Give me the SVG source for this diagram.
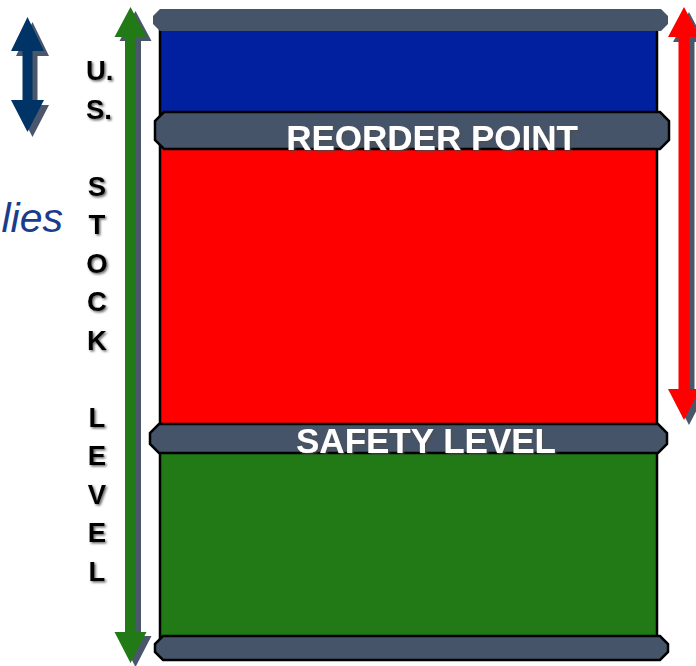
<svg xmlns="http://www.w3.org/2000/svg" width="696" height="666" viewBox="0 0 696 666">
  <style>
    .band { fill: #465469; stroke: #000; stroke-width: 2.5; stroke-linejoin: miter; }
    .band-top { fill: #465469; }
    .shadow { fill: #4a576b; }
    .axis { font-family: "Liberation Sans", Arial, sans-serif; font-weight: bold; font-size: 27.5px; fill: #000; }
    .label { font-family: "Liberation Sans", Arial, sans-serif; font-weight: bold; font-size: 35px; fill: #fff; text-anchor: middle; }
    .side { font-family: "Liberation Sans", Arial, sans-serif; font-style: italic; font-size: 41px; fill: #1a3c8c; text-anchor: end; }
  </style>
  <defs>
    <filter id="txtShadow" x="-20%" y="-20%" width="140%" height="140%">
      <feDropShadow dx="1.5" dy="1.5" stdDeviation="1" flood-color="#4d4d4d" flood-opacity="0.85"/>
    </filter>
    <path id="arrowGreen" d="M130.5,7 L146.5,37 L136,37 L136,632 L146.5,632 L130.5,663 L114.5,632 L125,632 L125,37 L114.5,37 Z"/>
    <path id="arrowRed" d="M684,7 L700,37 L689.5,37 L689.5,389 L700,389 L684,420 L668,389 L678.5,389 L678.5,37 L668,37 Z"/>
    <path id="arrowBlue" d="M27.5,17 L44,51 L32.5,51 L32.5,100 L44,100 L27.5,132 L11,100 L22.5,100 L22.5,51 L11,51 Z"/>
  </defs>

  <!-- barrel body with the three stock zones -->
  <g id="barrel">
    <rect x="160" y="28" width="497" height="86" fill="#00209f"/>
    <rect x="160" y="147" width="497" height="279" fill="#ff0000"/>
    <rect x="160" y="451" width="497" height="187" fill="#217a16"/>
    <rect x="160" y="28" width="497" height="612" fill="none" stroke="#000" stroke-width="2.5"/>
  </g>

  <g id="band-top">
    <polygon class="band-top" points="160,9 661,9 668,16 668,24 661,31 160,31 153,24 153,16"/>
  </g>

  <g id="band-reorder">
    <polygon class="band" points="164,112 660,112 669,121 669,140 660,149 164,149 155,140 155,121"/>
    <text class="label" filter="url(#txtShadow)" x="432" y="150">REORDER POINT</text>
  </g>

  <g id="band-safety">
    <polygon class="band" points="159,424 658,424 667,433 667,444 658,453 159,453 150,444 150,433"/>
    <text class="label" filter="url(#txtShadow)" x="426" y="453">SAFETY LEVEL</text>
  </g>

  <g id="band-bottom">
    <polygon class="band" points="163,636 660,636 668,644 668,652 660,660 163,660 155,652 155,644"/>
  </g>

  <!-- double-headed arrows with offset shadows -->
  <g id="connectors">
    <use href="#arrowGreen" class="shadow" transform="translate(5,4)"/>
    <use href="#arrowGreen" fill="#217a16"/>
    <use href="#arrowRed" class="shadow" transform="translate(5,5)"/>
    <use href="#arrowRed" fill="#ff0000"/>
    <use href="#arrowBlue" class="shadow" transform="translate(5,5)"/>
    <use href="#arrowBlue" fill="#003466"/>
  </g>

  <!-- vertical axis caption -->
  <g id="axis-label" class="axis" filter="url(#txtShadow)">
    <text x="86" y="80">U.</text>
    <text x="86" y="118.5">S.</text>
    <g text-anchor="middle">
      <text x="97" y="195.5">S</text>
      <text x="97" y="234">T</text>
      <text x="97" y="272.5">O</text>
      <text x="97" y="311">C</text>
      <text x="97" y="349.5">K</text>
      <text x="97" y="426.5">L</text>
      <text x="97" y="465">E</text>
      <text x="97" y="503.5">V</text>
      <text x="97" y="542">E</text>
      <text x="97" y="580.5">L</text>
    </g>
  </g>

  <g id="side-caption">
    <text class="side" x="63" y="232">lies</text>
  </g>
</svg>
